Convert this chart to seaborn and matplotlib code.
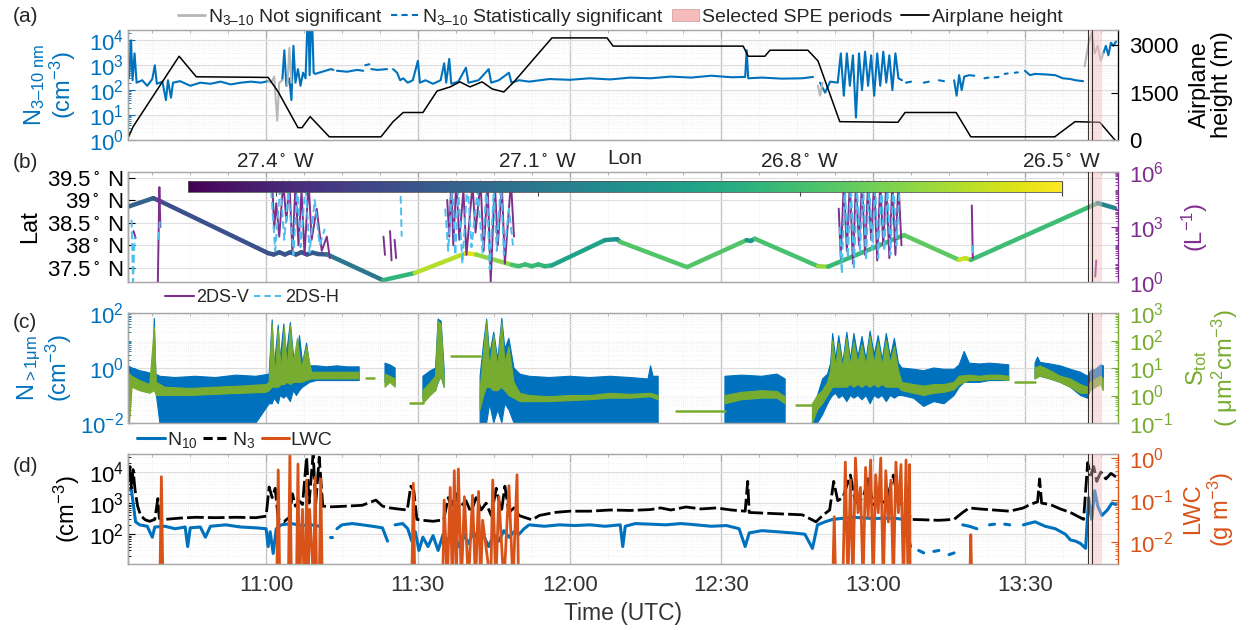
import numpy as np
import pandas as pd
import matplotlib
matplotlib.use('Agg')
import matplotlib.pyplot as plt
import seaborn as sns
from matplotlib.collections import LineCollection
from matplotlib.colors import Normalize
from matplotlib.cm import ScalarMappable
from matplotlib.ticker import FixedLocator, FuncFormatter, LogLocator, NullFormatter, MultipleLocator
from matplotlib.patches import Patch
from matplotlib.lines import Line2D

nan = np.nan

# time axis: minutes after 10:00 UTC
T_START, T_END = 32.7, 228.4
SPE_SPAN = (222.8, 225.2)
SPE_LINES = [222.4, 223.3]
TIME_TICKS = [60, 90, 120, 150, 180, 210]

# (a) airplane height (m)
height_t = [32.7, 33.7, 42.8, 46.2, 60.4, 62.4, 66.3, 67.1, 68.7, 72.5, 82.7, 85.1, 87.1, 91.0,
            93.8, 96.4, 98.3, 100.3, 102.7, 104.7, 107.0, 109.0, 116.5, 127.4, 128.6, 154.3,
            155.3, 158.6, 159.6, 167.1, 169.1, 173.4, 184.9, 186.3, 196.4, 199.3, 215.9,
            219.9, 224.8, 227.8]
height_m = [60, 420, 2650, 2000, 1980, 1520, 390, 390, 740, 100, 100, 580, 870, 870,
            1550, 1680, 1840, 1680, 1840, 1615, 1520, 1840, 3230, 3230, 2970, 2970,
            2650, 2650, 2840, 2840, 2500, 580, 560, 870, 870, 100, 100,
            580, 560, 0]

# (a) N3-10, statistically significant (cm-3)
n310_t = [32.9, 33.3, 33.6, 34.0, 34.4, 35.5, 36.5, 37.5, 38.0, 38.4, 39.5, 40.2, 40.6, 41.2, 41.6,
          43, 45, 47, 49, 51, 53, 55, 57, 59, 60.4, 60.5,
          63.2, 63.6, 64.0, 64.6, 65.0, 65.4, 65.8, 66.3, 66.8, 67.3, 67.8, 68.3, 68.6, 69.0, 69.4, 69.7,
          72.8, 73.3, 73.4, 74, 76, 78, 79.2, 79.3, 79.6, 80.4, 80.5, 80.8, 82, 83.9, 84.0,
          85.1, 85.9, 86.5, 87.1, 88, 89, 90, 90.4, 91.5, 93, 94.5, 95.2, 95.6, 96.2, 96.6, 98, 99.5,
          100, 102, 104, 104.5, 106, 108, 108.5, 110, 112, 116, 120, 124, 128, 132, 136, 140, 144,
          148, 152, 154.7, 155.0, 155.3, 158, 162, 166, 168.1, 168.2,
          169.5, 170.5, 171.5, 173, 173.6, 174.2, 174.8, 175.4, 176, 176.6, 177.2, 177.8, 178.4,
          179, 179.6, 180.2, 180.8, 181.4, 182, 182.6, 183.2, 183.8, 184.4, 185, 185.7, 185.8,
          186.5, 187.5, 187.6, 190, 191, 191.1, 193, 194, 194.1, 196, 196.5, 197, 197.5, 198, 199,
          200, 200.1, 202, 202.8, 202.9, 204, 204.8, 204.9, 206, 206.6, 206.7, 208, 208.6, 208.7,
          210, 211, 212, 214, 216, 217.5, 219, 220, 221.5, 221.6,
          225.5, 226, 226.5, 227, 227.5, 228]
n310_v = [300, 1e4, 250, 3000, 200, 250, 150, 280, 1000, 180, 220, 40, 250, 50, 200,
          230, 150, 200, 180, 220, 170, 200, 220, 200, 230, nan,
          250, 4000, 150, 300, 40, 6000, 200, 700, 150, 500, 300, 3e5, 400, 3e5, 500, 450,
          700, 650, nan, 600, 550, 650, 600, nan, 1000, 1100, nan, 700, 650, 700, nan,
          700, 500, 250, 300, 200, 250, 1500, 200, 250, 180, 250, 1200, 200, 1800, 180, 220, 800,
          200, 250, 700, 200, 250, 500, 200, 250, 220, 280, 260, 300, 270, 320, 300, 350, 320,
          380, 330, 340, 4000, 300, 320, 290, 300, 340, nan,
          200, 80, 220, 200, 3000, 60, 3000, 150, 2500, 8, 3000, 100, 3500,
          150, 2500, 60, 3000, 150, 3500, 200, 2500, 100, 3000, 300, 250, nan,
          200, 220, nan, 200, 220, nan, 250, 230, nan, 250, 60, 400, 100, 350, 400,
          380, nan, 300, 320, nan, 330, 340, nan, 450, 470, nan, 500, 520, nan,
          600, 400, 450, 430, 400, 300, 280, 250, 230, nan,
          3000, 6000, 2500, 8000, 6000, 9000]

# (a) N3-10, not significant (cm-3)
n310_ns_t = [60.4, 61.0, 61.6, 62.2, 62.6, 63.2, 63.3, 64.2, 64.6, 65.0, 65.1,
             169.1, 169.5, 170.0, 170.1, 221.8, 222.6, 223.2, 223.8, 224.4, 225.0, 225.5]
n310_ns_v = [230, 200, 350, 6, 200, 250, nan, 150, 5000, 200, nan,
             150, 60, 200, nan, 900, 8000, 2e4, 3000, 6000, 1500, 3000]

# (b) flight track: latitude and longitude
track_t = [32.7, 37.7, 39.3, 60.4, 61.5, 62.6, 63.7, 64.8, 65.9, 67.0, 68.1, 69.2, 70.3, 72.1,
           83.1, 89.4, 99.5, 101.5, 108.6, 109.9, 111.2, 112.5, 113.8, 115.1, 116.5, 127.0,
           129.4, 130.0, 143.2, 155.0, 155.8, 156.6, 169.1, 171.1, 186.1, 197.0, 198.2, 199.3,
           224.4, 227.8]
track_lat = [38.86, 39.05, 38.97, 37.83, 37.80, 37.85, 37.80, 37.85, 37.80, 37.85, 37.80, 37.84,
             37.81, 37.80, 37.23, 37.39, 37.83, 37.80, 37.57, 37.54, 37.58, 37.54, 37.58, 37.54,
             37.56, 38.12, 38.14, 38.08, 37.52, 38.12, 38.10, 38.15, 37.54, 37.53, 38.23, 37.68,
             37.72, 37.68, 38.94, 38.83]
track_lon = [-27.16, -27.21, -27.26, -27.25, -27.24, -27.24, -27.24, -27.24, -27.24, -27.24,
             -27.24, -27.23, -27.23, -27.22, -26.99, -26.70, -26.52, -26.56, -26.78, -26.80,
             -26.81, -26.82, -26.83, -26.84, -26.86, -26.97, -26.99, -26.98, -26.56, -26.98,
             -26.98, -26.98, -26.60, -26.72, -26.93, -26.57, -26.58, -26.60, -27.03, -27.07]
LON_MIN, LON_MAX = -27.5, -26.5
lon_ticks = [-27.4, -27.1, -26.8, -26.5]
lat_ticks = [37.5, 38.0, 38.5, 39.0, 39.5]

# (b) 2DS-V concentration (L-1)
v2ds_t = [33.8, 34.2, 34.3, 38.6, 38.9, 39.1, 39.2,
          61.2, 61.6, 62.0, 62.6, 63.4, 64.0, 64.6, 65.2, 65.8, 66.4, 67.0, 67.6, 68.4, 69.0,
          70.0, 71.0, 72.0, 72.6, 72.7, 83.2, 83.5, 83.6, 84.5, 84.8, 84.9, 85.4, 85.7, 85.8,
          95.8, 96.2, 96.6, 97.0, 97.6, 98.2, 99.0, 99.6, 100.8, 101.4, 102.4, 103.0, 103.8,
          104.4, 105.2, 105.8, 106.6, 107.2, 108.4, 109.0, 109.1,
          173.2, 173.6, 174.2, 174.8, 175.4, 176.0, 176.6, 177.2, 177.8, 178.4, 179.0, 179.6,
          180.2, 180.8, 181.4, 182.0, 182.6, 183.2, 183.8, 184.4, 185.0, 185.6, 185.7,
          199.5, 199.7, 199.8, 223.9, 224.1]
v2ds_v = [600, 250, nan, 1, 1.5e5, 1e3, nan,
          3e5, 800, 2e4, 300, 3e5, 2e3, 3e5, 40, 2e5, 100, 1e5, 30, 3e5, 200,
          1e4, 50, 300, 20, nan, 300, 30, nan, 600, 15, nan, 200, 20, nan,
          3e4, 300, 3e5, 100, 3e5, 200, 1e5, 30, 2e5, 500, 3e5, 50, 2e5,
          1, 3e5, 100, 2e5, 10, 3e5, 300, nan,
          1e4, 20, 3e5, 50, 3e5, 10, 3e5, 100, 3e5, 30, 3e5, 200,
          3e5, 15, 3e5, 100, 3e5, 20, 3e5, 30, 3e5, 100, nan,
          1.5e4, 20, nan, 2, 15]

# (b) 2DS-H concentration (L-1)
h2ds_t = [33.4, 33.7, 34.0, 34.1, 38.7, 39.0, 39.1,
          61.0, 61.8, 62.8, 63.6, 64.4, 65.4, 66.2, 66.8, 67.8, 68.6, 69.6, 70.6, 71.6, 71.7,
          86.6, 86.8, 86.9,
          95.4, 96.0, 96.8, 97.4, 98.0, 98.8, 99.8, 100.6, 101.8, 102.8, 103.6, 104.2, 105.0,
          105.6, 106.4, 107.0, 108.0, 108.8, 108.9,
          173.4, 173.8, 174.4, 175.0, 175.6, 176.2, 176.8, 177.4, 178.0, 178.6, 179.2, 179.8,
          180.4, 181.0, 181.6, 182.2, 182.8, 183.4, 184.0, 184.6, 185.2, 185.3, 199.6, 199.7]
h2ds_v = [2500, 1, 300, nan, 200, 2000, nan,
          1e5, 50, 2e5, 200, 1e5, 30, 3e5, 80, 2e5, 40, 3e4, 100, 800, nan,
          5e4, 300, nan,
          1e4, 50, 3e5, 30, 1e5, 10, 3e5, 80, 1e5, 40, 3e5, 5, 1e5,
          50, 3e5, 30, 1e4, 100, nan,
          1e3, 3, 2e5, 20, 3e5, 5, 2e5, 40, 3e5, 15, 3e5, 60,
          2e5, 20, 3e5, 50, 2e5, 30, 3e5, 100, 1e5, nan, 100, 30]

# (c) N>1um (cm-3): lower / upper envelope of the noisy record
nbig_t = [32.7, 33.5, 35, 36.5, 37.6, 37.9, 38.2, 39, 42, 46, 50, 54, 58, 60.6, 61.2, 61.6,
          62.4, 62.8, 63.5, 64.0, 64.8, 65.4, 66, 66.6, 67.2, 68, 68.6, 70, 72, 74, 76, 78.4, 78.5,
          83.5, 84.5, 85.5, 85.6, 91, 92.5, 93.5, 94, 94.6, 95.2, 95.3,
          102.3, 103, 103.6, 104.2, 105, 105.8, 106.6, 107.2, 108, 109, 110.2,
          112, 116, 120, 124, 128, 132, 135.5, 136, 136.5, 137.5, 137.6,
          150.7, 154, 158, 161, 162.6, 162.7,
          168, 169, 170, 171, 171.6, 172, 172.6, 173.2, 174, 174.8, 175.5, 176.2, 177, 177.8,
          178.6, 179.4, 180.2, 181, 181.8, 182.6, 183.4, 184.2, 185, 185.7, 188, 190, 192, 194,
          196, 197, 198, 199, 201, 203, 205, 206.8, 206.9,
          212, 212.5, 213, 215, 217, 219, 221, 222.4, 223, 224, 225, 225.5]
nbig_lo = [0.01, 0.3, 0.25, 0.2, 0.2, 0.3, 0.15, 0.01, 0.01, 0.01, 0.01, 0.01, 0.01, 0.05, 0.05,
           0.08, 0.05, 0.1, 0.08, 0.1, 0.06, 0.15, 0.1, 0.15, 0.2, 0.25, 0.3, 0.35, 0.35, 0.35,
           0.35, 0.35, nan,
           0.3, 0.35, 0.25, nan, 0.08, 0.12, 0.15, 0.3, 0.5, 0.2, nan,
           0.01, 0.01, 0.01, 0.05, 0.01, 0.03, 0.01, 0.05, 0.03, 0.01, 0.01,
           0.01, 0.01, 0.01, 0.01, 0.01, 0.01, 0.01, 0.01, 0.01, 0.01, nan,
           0.01, 0.01, 0.01, 0.01, 0.01, nan,
           0.01, 0.01, 0.02, 0.05, 0.08, 0.1, 0.12, 0.08, 0.1, 0.06, 0.1, 0.08, 0.1, 0.07,
           0.1, 0.05, 0.1, 0.08, 0.1, 0.06, 0.1, 0.08, 0.1, 0.1, 0.08, 0.04, 0.06, 0.05,
           0.1, 0.2, 0.3, 0.3, 0.3, 0.35, 0.35, 0.35, nan,
           0.4, 0.5, 0.5, 0.4, 0.3, 0.2, 0.1, 0.08, 0.2, 0.25, 0.3, 0.3]
nbig_hi = [1.2, 1.0, 0.8, 0.7, 0.6, 64, 0.6, 0.5, 0.45, 0.5, 0.45, 0.55, 0.5, 0.6, 56, 1.0,
           36, 2, 40, 3, 45, 3, 1.5, 15, 1.5, 8, 1.2, 1.2, 1.1, 1.2, 1.1, 1.1, nan,
           1.5, 1.3, 1.0, nan, 0.5, 0.8, 1.0, 60, 50, 0.9, nan,
           0.5, 8, 60, 3, 20, 2, 64, 5, 12, 1.0, 0.6,
           0.5, 0.45, 0.5, 0.45, 0.5, 0.45, 0.4, 1.2, 0.5, 0.5, nan,
           0.5, 0.55, 0.5, 0.6, 0.4, nan,
           0.02, 0.1, 0.4, 0.6, 1.5, 18, 2, 15, 1.5, 20, 2, 18, 2.5, 14,
           2, 22, 3, 15, 2, 18, 2.5, 12, 1.5, 1.0, 0.9, 0.8, 1.0, 0.9,
           0.9, 1.3, 4.0, 1.5, 1.4, 1.5, 1.4, 1.3, nan,
           1.5, 2.5, 1.6, 1.4, 1.2, 0.9, 0.7, 0.5, 0.8, 0.9, 1.3, 1.2]

# (c) S_tot (um2 cm-3): lower / upper envelope
stot_t = [32.7, 33.0, 33.5, 35, 37, 37.9, 38.3, 40, 45, 50, 55, 60, 60.6, 61.2, 61.8, 62.4,
          63.0, 63.6, 64.2, 64.8, 65.4, 66.2, 67.0, 68.0, 69.0, 72, 75, 78.4, 78.5,
          83.5, 84.5, 85.5, 85.6, 91, 92.5, 93.5, 94, 94.6, 95.2, 95.3,
          102.3, 103, 103.6, 104.2, 105, 105.8, 106.6, 107.2, 108, 109, 110.2,
          112, 116, 120, 124, 128, 132, 136, 137.5, 137.6,
          150.7, 154, 158, 161, 162.6, 162.7,
          168, 169, 170, 171, 171.6, 172, 172.6, 173.2, 174, 174.8, 175.5, 176.2, 177, 177.8,
          178.6, 179.4, 180.2, 181, 181.8, 182.6, 183.4, 184.2, 185, 185.7, 188, 190, 192, 194,
          196, 197, 199, 201, 203, 205, 206.8, 206.9,
          212, 213, 215, 217, 219, 221, 222.4, 223, 224, 225, 225.5]
stot_lo = [1.0, 0.1, 2, 1.5, 1.2, 1.5, 1.0, 1.0, 1.0, 1.1, 1.2, 1.3, 1.5, 2, 2, 2,
           2.5, 2.5, 3, 2.5, 3, 3, 3, 3.5, 4, 4, 4, 4, nan,
           2, 3, 2, nan, 0.5, 1, 1.5, 3, 5, 2, nan,
           0.3, 1, 2, 2, 1.5, 1.5, 2, 1.5, 1, 0.8, 0.6,
           0.6, 0.6, 0.65, 0.7, 0.8, 0.8, 0.9, 0.7, nan,
           0.5, 0.7, 0.8, 0.8, 0.5, nan,
           0.1, 0.3, 0.5, 1, 1.5, 2, 2, 2, 2, 2, 2.5, 2, 2.5, 2,
           2.5, 2, 2.5, 2, 2.5, 2, 2, 2, 2, 1.5, 1.2, 1.0, 1.2, 1.3,
           1.6, 2.5, 3.5, 3.5, 3.8, 3.8, 3.5, nan,
           4, 5, 4, 3, 2, 1.2, 1.2, 1.5, 2, 2.5, 1.5]
stot_hi = [8, 6, 5, 3.5, 2.5, 300, 3, 2.0, 1.8, 2.0, 2.2, 2.5, 3, 400, 5, 250,
           8, 300, 10, 350, 15, 120, 10, 60, 7, 7, 7, 7, nan,
           6, 5, 4, nan, 1.5, 3, 5, 500, 400, 4, nan,
           1.5, 40, 500, 10, 150, 10, 450, 15, 60, 3, 1.2,
           1.0, 0.9, 1.0, 1.0, 1.2, 1.1, 1.2, 1.0, nan,
           1.0, 1.3, 1.5, 1.4, 0.9, nan,
           0.5, 1, 1.5, 3, 8, 100, 10, 80, 10, 120, 12, 90, 15, 70,
           12, 140, 15, 90, 12, 100, 15, 60, 8, 3, 2.5, 2.2, 2.5, 2.5,
           3, 5, 5.5, 5, 5.5, 5.5, 5, nan,
           10, 12, 8, 5, 4, 2.5, 2, 3, 4, 5, 4]

# (c) S_tot held constant while out of cloud
stot_flat_t = [79.8, 81.4, nan, 88.5, 91.0, nan, 96.5, 102.3, nan, 141.0, 150.7, nan,
               164.8, 168.0, nan, 208.0, 212.0]
stot_flat_v = [4.3, 4.3, nan, 0.54, 0.54, nan, 28, 28, nan, 0.28, 0.28, nan,
               0.44, 0.44, nan, 3.2, 3.2]

# (d) N3 (cm-3)
n3_t = [32.8, 33.1, 33.4, 33.7, 34.1, 34.6, 35.2, 36.1, 37, 38, 38.6, 38.9, 40, 43, 46, 50, 54,
        58, 60, 60.6, 61.2, 61.8, 62.4, 63.5, 64.6, 65.2, 65.8, 66.5, 67.2, 68, 68.5, 69.3, 69.8,
        70.5, 71.2, 73, 76, 79, 81.7, 83, 84.5, 86, 87.9, 88.6, 89.2, 89.8, 91, 93, 95.1, 96,
        96.6, 97.5, 98.2, 99.5, 100.5, 101.5, 102.5, 103.5, 104.5, 105.5, 106.5, 107.2, 108,
        109, 110, 111, 112.6, 114, 117, 120, 124, 128, 132, 136, 138, 140, 143, 146, 149, 152,
        154.7, 155.2, 155.5, 158, 162, 166, 168.7, 170, 171.4, 172.2, 173, 174, 175.5, 176.5,
        178, 179, 180, 181.5, 182.5, 184, 185, 186.5, 187.4, 190, 193, 196, 197.7, 199, 201,
        204, 207, 209.7, 211, 212.5, 212.9, 213.3, 215, 217, 219, 221.6, 222.4, 223, 223.6,
        224.2, 225, 226, 227, 228]
n3_v = [5000, 1.5e4, 3000, 1.2e4, 2600, 800, 400, 290, 260, 300, 1400, 320, 300, 330, 350, 340,
        350, 340, 380, 3300, 1500, 3000, 300, 250, 350, 2000, 800, 1200, 900, 3e4, 1000, 4e4,
        900, 3e4, 800, 760, 800, 850, 1250, 800, 700, 650, 600, 3500, 2500, 300, 280, 260, 290,
        1500, 800, 2000, 700, 1200, 500, 1500, 600, 1000, 400, 3000, 500, 3500, 500,
        700, 400, 350, 290, 400, 500, 550, 550, 600, 580, 620, 700, 600, 750, 650, 700, 600,
        550, 5000, 500, 480, 450, 420, 250, 400, 600, 5000, 1200, 1500, 8000, 1000,
        1500, 6000, 900, 1200, 1000, 8000, 900, 1200, 300, 290, 280, 300, 500, 700, 650,
        600, 550, 700, 900, 1100, 6000, 1000, 900, 650, 500, 300, 2e4, 8000, 1.5e4,
        5000, 1e4, 6000, 9000, 7000]

# (d) N10 (cm-3)
n10_t = [32.8, 33.4, 34.2, 35, 36.5, 37.5, 38, 40, 42, 44, 44.5, 45, 47, 48, 49, 52, 55, 58, 60,
         60.4, 60.8, 61.4, 62, 63, 65, 67, 69, 70.5, 70.6, 72.6, 73.0, 73.1, 74, 75, 77, 79, 81,
         83, 84, 84.7, 85.5, 87, 88, 88.8, 89.5, 90.2, 91, 92, 93, 94, 95, 96, 97, 98, 99, 100,
         101, 102, 103, 104, 105, 106, 107, 108, 109, 110, 111, 112, 115, 118, 121, 124, 127,
         130, 130.5, 131, 133, 136, 139, 142, 145, 148, 151, 153.5, 154.7, 155.5, 158, 161, 164,
         166.5, 168, 169, 170.5, 172, 176, 180, 184, 186, 187.4, 187.5, 189, 190, 190.1, 192,
         193, 193.1, 195, 196, 196.1, 197.7, 199, 200.5, 200.6, 203, 204, 204.1, 206, 207,
         207.1, 209.7, 212, 214, 216, 218, 219, 220, 221, 222, 222.6, 223.2, 223.8, 224.4,
         225.2, 226.3, 227.2, 228]
n10_v = [3000, 2500, 250, 200, 180, 80, 170, 180, 150, 170, 40, 160, 170, 80, 180, 200, 170, 160,
         150, 40, 120, 24, 150, 200, 220, 190, 200, 180, nan, 80, 80, nan, 150, 200, 220, 200,
         180, 160, 60, nan, 200, 220, 150, 60, 120, 30, 80, 40, 90, 30, 100, 60, 150, 40, 100,
         50, 120, 60, 90, 40, 100, 60, 130, 80, 120, 100, 150, 200, 180, 200, 190, 200, 180,
         200, 40, 180, 220, 210, 200, 220, 200, 180, 190, 150, 40, 110, 130, 120, 110,
         100, 35, 200, 250, 300, 350, 320, 330, 300, 40, nan, 30, 25, nan, 28,
         30, nan, 22, 25, nan, 200, 180, 150, nan, 200, 210, nan, 210, 200,
         nan, 200, 250, 180, 150, 100, 65, 60, 50, 35, 1500, 300, 2500, 800,
         400, 600, 1000, 900]

# (d) liquid water content (g m-3); 1e-3 = below detection
lwc_t = [39.0, 39.3, 39.6, 39.7,
         62.1, 62.4, 62.7, 64.4, 64.7, 65.0, 66.0, 66.3, 66.6, 67.2, 67.5, 67.8, 68.0, 68.3,
         68.6, 69.4, 69.7, 70.0, 70.5, 70.8, 71.1, 71.2,
         88.8, 89.1, 89.4, 89.5,
         94.9, 95.2, 95.8, 96.4, 96.8, 97.2, 97.6, 98.0, 98.6, 99.2, 100.0, 100.8, 101.4,
         102.0, 102.4, 102.8, 104.4, 104.8, 105.4, 106.0, 107.0, 108.0, 108.8, 109.6, 109.9,
         110.0,
         172.0, 172.3, 172.6, 174.0, 174.5, 175.0, 175.5, 176.0, 176.5, 177.0, 177.5, 178.0,
         178.5, 179.0, 179.5, 180.0, 180.5, 181.0, 181.5, 182.0, 182.5, 183.0, 183.5, 184.0,
         184.5, 185.0, 185.5, 186.0, 186.5, 186.9, 187.2, 187.3,
         199.1, 199.3, 199.5]
lwc_v = [1e-3, 0.36, 1e-3, nan,
         1e-3, 0.52, 1e-3, 1e-3, 1.2, 1e-3, 1e-3, 0.72, 1e-3, 0.06, 1e-3, 1e-3, 0.3, 1e-3,
         0.06, 1e-3, 0.35, 1e-3, 1e-3, 0.32, 1e-3, nan,
         1e-3, 0.25, 1e-3, nan,
         1e-3, 0.1, 1e-3, 0.2, 1e-3, 0.5, 1e-3, 0.55, 1e-3, 0.12, 1e-3, 0.13, 1e-3,
         0.16, 1e-3, 0.033, 1e-3, 0.3, 1e-3, 0.12, 1e-3, 0.22, 1e-3, 0.4, 1e-3,
         nan,
         1e-3, 0.04, 1e-3, 1e-3, 0.8, 1e-3, 0.3, 1e-3, 1.0, 0.05, 0.2, 1e-3,
         0.6, 0.04, 0.9, 1e-3, 0.4, 0.05, 1.0, 1e-3, 0.5, 0.03, 0.3, 1e-3,
         0.8, 0.05, 0.7, 1e-3, 0.9, 1e-3, 0.7, 1e-3,
         1e-3, 0.015, 1e-3]

BLUE = '#0072BD'
ORANGE = '#D95319'
GREEN = '#77AC30'
PURPLE = '#7E2F8E'
LBLUE = '#4DBEEE'
GRAY = '#b8b8b8'
PINK = '#f6bcbc'
FRAME = '#a8a8a8'

sns.set_style('white')
plt.rcParams['font.family'] = ['Liberation Sans', 'DejaVu Sans']
plt.rcParams['mathtext.fontset'] = 'custom'
plt.rcParams['mathtext.rm'] = 'Liberation Sans'
plt.rcParams['mathtext.it'] = 'Liberation Sans:italic'
plt.rcParams['mathtext.default'] = 'regular'


def line(ax, t, v, **kw):
    df = pd.DataFrame({'t': t, 'v': v})
    df['seg'] = df['v'].isna().cumsum()
    df = df.dropna()
    sns.lineplot(data=df, x='t', y='v', units='seg', estimator=None, sort=False,
                 ax=ax, legend=False, **kw)


def ylabel(ax, text, color, x, fontsize=17):
    ax.set_ylabel(text, color=color, fontsize=fontsize, linespacing=1.05)
    ax.yaxis.set_label_coords(x, 0.5)
    ax.yaxis.label.set_va('center')
    ax.yaxis.label.set_ha('center')


def frame(ax, left_color, right_ax, right_color):
    ax.set_xlim(T_START, T_END)
    ax.xaxis.set_major_locator(FixedLocator(TIME_TICKS))
    ax.xaxis.set_minor_locator(MultipleLocator(7.5))
    ax.grid(True, which='major', color='#dedede', lw=0.8)
    ax.grid(True, which='minor', color='#ececec', lw=0.6, ls=':')
    ax.xaxis.grid(True, which='major', color='#c4c4c4', lw=1.0)
    ax.set_xlabel('')
    ax.set_ylabel('')
    right_ax.set_xlabel('')
    right_ax.set_ylabel('')
    for a in (ax, right_ax):
        for s in a.spines.values():
            s.set_color(FRAME)
            s.set_linewidth(0.9)
    ax.spines['left'].set_color(left_color)
    right_ax.spines['right'].set_color(right_color)
    ax.tick_params(axis='y', which='both', direction='in', colors=left_color, labelsize=16, pad=3)
    right_ax.tick_params(axis='y', which='both', direction='in', colors=right_color, labelsize=16,
                         pad=8)
    ax.tick_params(axis='x', which='both', direction='in', color=FRAME, labelsize=16,
                   top=True, labelbottom=False)
    ax.tick_params(which='major', length=5)
    right_ax.tick_params(which='major', length=5)
    ax.tick_params(which='minor', length=2.5)
    right_ax.tick_params(which='minor', length=2.5)
    right_ax.yaxis.set_minor_formatter(NullFormatter())
    for x in SPE_LINES:
        right_ax.axvline(x, color='#333333', lw=0.8, zorder=6)
    right_ax.axvspan(*SPE_SPAN, color=PINK, alpha=0.45, lw=0, zorder=5)


def log_axis(ax, lo, hi, majors):
    ax.set_yscale('log')
    ax.set_ylim(lo, hi)
    ax.yaxis.set_major_locator(FixedLocator(majors))
    ax.yaxis.set_minor_locator(LogLocator(base=10, subs=np.arange(1, 10), numticks=20))
    ax.yaxis.set_minor_formatter(NullFormatter())


fig = plt.figure(figsize=(12.56, 6.3), dpi=100)
L, W, H = 128 / 1256, 990 / 1256, 110 / 630
ax_a = fig.add_axes([L, 1 - 140 / 630, W, H])
ax_b = fig.add_axes([L, 1 - 282 / 630, W, H])
ax_c = fig.add_axes([L, 1 - 423 / 630, W, H])
ax_d = fig.add_axes([L, 1 - 564 / 630, W, H])
ax_a2, ax_b2, ax_c2, ax_d2 = ax_a.twinx(), ax_b.twinx(), ax_c.twinx(), ax_d.twinx()

# ---- (a) ----
line(ax_a, n310_t, n310_v, color=BLUE, lw=1.5)
line(ax_a, n310_ns_t, n310_ns_v, color=GRAY, lw=1.5)
log_axis(ax_a, 1, 2.6e4, [1, 10, 100, 1e3, 1e4])
line(ax_a2, height_t, height_m, color='black', lw=1.1)
ax_a2.set_ylim(0, 3480)
ax_a2.set_yticks([0, 1500, 3000])
frame(ax_a, BLUE, ax_a2, 'black')
ylabel(ax_a, 'N$_{3\u201310\\ nm}$\n(cm$^{-3}$)', BLUE, -0.079)
ylabel(ax_a2, 'Airplane\nheight (m)', 'black', 1.094)
handles_a = [Line2D([], [], color=GRAY, lw=2),
             Line2D([], [], color=BLUE, lw=1.5, ls=(0, (3, 2))),
             Patch(facecolor=PINK, edgecolor='#c99', lw=0.5),
             Line2D([], [], color='black', lw=1.3)]
labels_a = ['N$_{3\u201310}$ Not significant', 'N$_{3\u201310}$ Statistically significant',
            'Selected SPE periods', 'Airplane height']
ax_a2.legend(handles_a, labels_a, loc='center', bbox_to_anchor=(0.497, 1.115), ncol=4,
             frameon=False, fontsize=14, handlelength=1.4, handletextpad=0.15,
             columnspacing=0.45, handleheight=0.6)

# ---- (b) ----
pts = np.column_stack([track_t, track_lat])
segs = np.stack([pts[:-1], pts[1:]], axis=1)
lon_arr = np.array(track_lon)
norm = Normalize(LON_MIN, LON_MAX)
cmap = plt.get_cmap('viridis')
ax_b.add_collection(LineCollection(segs, colors=cmap(norm((lon_arr[:-1] + lon_arr[1:]) / 2)),
                                   linewidths=3.2, capstyle='round'))
ax_b.set_ylim(37.19, 39.63)
ax_b.set_yticks(lat_ticks)
ax_b.set_yticklabels([f'{v:g}$^\\circ$ N' for v in lat_ticks])
line(ax_b2, v2ds_t, v2ds_v, color=PURPLE, lw=1.4)
line(ax_b2, h2ds_t, h2ds_v, color=LBLUE, lw=1.4, linestyle=(0, (4, 2)))
log_axis(ax_b2, 1, 1e6, [1, 1e3, 1e6])
frame(ax_b, 'black', ax_b2, PURPLE)
ylabel(ax_b, 'Lat', 'black', -0.099)
ylabel(ax_b2, '(L$^{-1}$)', PURPLE, 1.078)
cax = ax_b2.inset_axes([0.061, 0.82, 0.882, 0.1])
cb = fig.colorbar(ScalarMappable(norm=norm, cmap=cmap), cax=cax, orientation='horizontal')
cb.outline.set_edgecolor('#555555')
cb.outline.set_linewidth(0.6)
cax.xaxis.set_ticks_position('top')
cax.set_xticks(lon_ticks)
cax.set_xticklabels([f'{-v:g}$^\\circ$ W' for v in lon_ticks])
cax.tick_params(axis='x', direction='in', length=11, color='#444444', labelsize=15, pad=7)
cax.text(0.5, 3.0, 'Lon', transform=cax.transAxes, ha='center', va='center', fontsize=15)
handles_b = [Line2D([], [], color=PURPLE, lw=1.5), Line2D([], [], color=LBLUE, lw=1.5, ls=(0, (3, 2)))]
ax_b2.legend(handles_b, ['2DS-V', '2DS-H'], loc='center', bbox_to_anchor=(0.125, -0.14), ncol=2,
             frameon=False, fontsize=13, handlelength=1.6, handletextpad=0.1, columnspacing=0.3)

# ---- (c) ----
ax_c.fill_between(nbig_t, nbig_lo, nbig_hi, color=BLUE, lw=0.8, edgecolor=BLUE)
log_axis(ax_c, 1e-2, 1e2, [1e-2, 1, 1e2])
ax_c2.fill_between(stot_t, stot_lo, stot_hi, color=GREEN, lw=0.8, edgecolor=GREEN)
line(ax_c2, stot_flat_t, stot_flat_v, color=GREEN, lw=1.8)
log_axis(ax_c2, 1e-1, 1e3, [1e-1, 1, 10, 100, 1e3])
frame(ax_c, BLUE, ax_c2, GREEN)
ylabel(ax_c, 'N$_{>1\\mu m}$\n(cm$^{-3}$)', BLUE, -0.084)
ylabel(ax_c2, 'S$_{tot}$\n( \u03bcm$^{2}$cm$^{-3}$)', GREEN, 1.095)

# ---- (d) ----
line(ax_d, n10_t, n10_v, color=BLUE, lw=2.2)
line(ax_d, n3_t, n3_v, color='black', lw=2.0, linestyle=(0, (6, 1.5)))
log_axis(ax_d, 11, 3.8e4, [1e2, 1e3, 1e4])
line(ax_d2, lwc_t, lwc_v, color=ORANGE, lw=2.0)
log_axis(ax_d2, 3e-3, 1.25, [1e-2, 1e-1, 1])
frame(ax_d, 'black', ax_d2, ORANGE)
ax_d.tick_params(axis='x', labelbottom=True, labelcolor='#333333', pad=8)
ax_d.xaxis.set_major_formatter(FuncFormatter(lambda v, p: f'{int(v // 60) + 10}:{int(v % 60):02d}'))
ax_d.set_xlabel('Time (UTC)', fontsize=16.5, color='#333333', labelpad=4)
ylabel(ax_d, '(cm$^{-3}$)', 'black', -0.062)
ylabel(ax_d2, 'LWC\n(g m$^{-3}$)', ORANGE, 1.092)
handles_d = [Line2D([], [], color=BLUE, lw=2.2), Line2D([], [], color='black', lw=2.2, ls=(0, (3, 1.5))),
             Line2D([], [], color=ORANGE, lw=2.2)]
ax_d2.legend(handles_d, ['N$_{10}$', 'N$_{3}$', 'LWC'], loc='center', bbox_to_anchor=(0.108, 1.125),
             ncol=3, frameon=False, fontsize=14, handlelength=1.4, handletextpad=0.1,
             columnspacing=0.3)

for lab, y in [('(a)', 17), ('(b)', 162), ('(c)', 323), ('(d)', 466)]:
    fig.text(25 / 1256, 1 - y / 630, lab, ha='center', va='center', fontsize=15)

fig.savefig('out.png', dpi=100)
